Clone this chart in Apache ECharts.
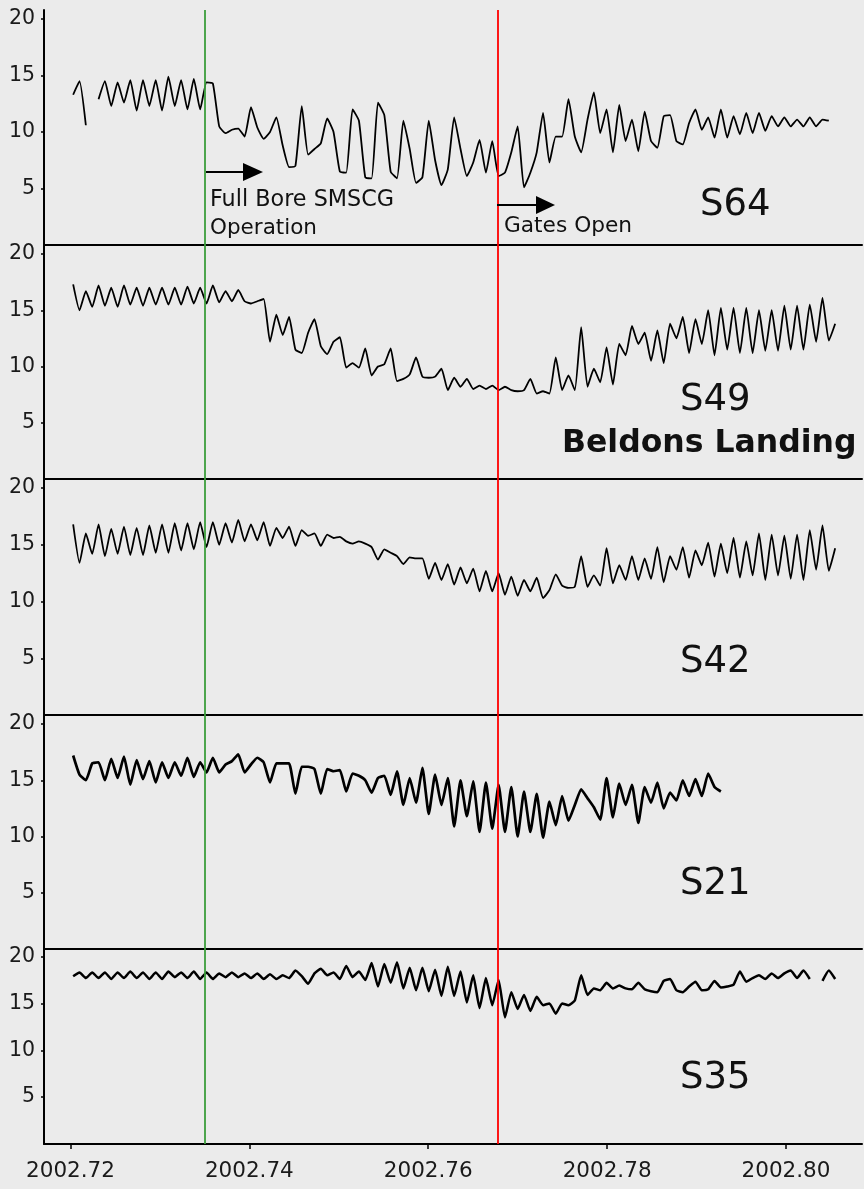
<!DOCTYPE html>
<html>
<head>
<meta charset="utf-8">
<title>Salinity stations</title>
<script src="https://cdn.jsdelivr.net/npm/echarts@6.0.0/dist/echarts.min.js"></script>
<style>
  html, body { margin: 0; padding: 0; background: #ebebeb; }
  #chart { width: 864px; height: 1189px; }
</style>
</head>
<body>
<div id="chart"></div>
<script>
// sampling: one reading roughly every half tide
const sampleStart = 2002.7203;
const sampleStep = 0.00071;

// event times (decimal year)
const fullBoreStart = 2002.735;
const gatesOpenAt = 2002.7678;

const xTicks = [2002.72, 2002.74, 2002.76, 2002.78, 2002.80];
const yTicks = [5, 10, 15, 20];
const stationNames = ["S64", "S49", "S42", "S21", "S35"];

const s64 = [13.3, 14.5, 10.6, null, 12.9, 14.5, 12.3, 14.4, 12.6, 14.6,
  11.9, 14.6, 12.3, 14.6, 11.9, 14.9, 12.3, 14.6, 12.0, 14.7,
  12.0, 14.4, 14.3, 10.5, 9.9, 10.2, 10.3, 9.6, 12.2, 10.4,
  9.4, 10.0, 11.3, 8.8, 6.9, 7.0, 12.3, 8.0, 8.5, 9.0,
  11.2, 10.0, 6.5, 6.4, 12.0, 11.0, 6.0, 5.9, 12.6, 11.5,
  6.5, 5.9, 11.0, 8.5, 5.5, 6.0, 11.0, 7.5, 5.3, 6.7,
  11.3, 8.5, 6.1, 7.3, 9.3, 6.4, 9.2, 6.1, 6.4, 8.2,
  10.5, 5.1, 6.4, 8.2, 11.7, 7.3, 9.6, 9.6, 12.9, 9.6,
  8.2, 11.1, 13.5, 9.9, 12.0, 8.2, 12.4, 9.2, 11.1, 8.3,
  11.8, 9.2, 8.6, 11.4, 11.5, 9.2, 8.9, 10.8, 12.0, 10.2,
  11.3, 9.5, 12.0, 9.5, 11.4, 9.8, 11.7, 9.9, 11.7, 10.1,
  11.4, 10.5, 11.3, 10.5, 11.1, 10.5, 11.3, 10.5, 11.1, 11.0];

const s49 = [17.3, 15.0, 16.7, 15.3, 17.2, 15.4, 17.0, 15.3, 17.2, 15.5,
  17.0, 15.4, 17.0, 15.5, 17.0, 15.5, 17.0, 15.5, 17.1, 15.6,
  17.0, 15.6, 17.2, 15.7, 16.7, 15.8, 16.8, 15.8, 15.6, 15.8,
  16.0, 12.2, 14.6, 12.8, 14.4, 11.5, 11.2, 13.0, 14.2, 11.8,
  11.1, 12.2, 12.6, 9.9, 10.3, 9.9, 11.6, 9.2, 10.0, 10.2,
  11.6, 8.7, 8.9, 9.3, 10.8, 9.1, 9.0, 9.1, 9.8, 7.9,
  9.0, 8.2, 8.9, 8.0, 8.3, 8.0, 8.3, 7.9, 8.2, 7.9,
  7.8, 7.9, 8.9, 7.6, 7.8, 7.6, 10.8, 7.9, 9.2, 7.9,
  13.5, 8.2, 9.8, 8.6, 11.7, 8.4, 12.0, 11.0, 13.6, 12.0,
  13.0, 10.5, 13.2, 10.3, 13.8, 12.5, 14.4, 11.2, 14.2, 12.0,
  15.0, 11.0, 15.2, 11.5, 15.2, 11.2, 15.2, 11.2, 15.0, 11.4,
  15.0, 11.4, 15.4, 11.5, 15.4, 11.5, 15.5, 12.2, 16.1, 12.3,
  13.8];

const s42 = [16.8, 13.4, 16.0, 14.2, 16.8, 14.0, 16.4, 14.2, 16.6, 14.1,
  16.5, 14.1, 16.7, 14.3, 16.8, 14.3, 16.9, 14.5, 16.9, 14.6,
  17.0, 14.8, 17.0, 15.0, 16.9, 15.2, 17.2, 15.3, 16.8, 15.4,
  17.0, 14.9, 16.5, 15.6, 16.6, 14.9, 16.3, 15.8, 16.0, 14.9,
  15.9, 15.6, 15.7, 15.3, 15.1, 15.3, 15.1, 14.8, 13.7, 14.6,
  14.3, 14.0, 13.3, 13.9, 13.8, 13.8, 12.0, 13.4, 11.9, 13.3,
  11.5, 13.0, 11.6, 12.9, 10.9, 12.7, 10.9, 12.5, 10.6, 12.2,
  10.5, 11.9, 10.9, 12.1, 10.3, 11.0, 12.4, 11.4, 11.2, 11.3,
  14.0, 11.3, 12.3, 11.4, 14.7, 11.6, 13.2, 11.9, 14.0, 11.9,
  13.8, 12.0, 14.8, 11.7, 14.0, 12.8, 14.8, 12.1, 14.5, 13.2,
  15.2, 12.2, 15.1, 12.5, 15.6, 12.1, 15.3, 12.3, 16.0, 11.9,
  15.9, 12.3, 15.8, 12.0, 15.9, 11.9, 16.3, 12.8, 16.7, 12.7,
  14.7];

const s21 = [17.2, 15.5, 15.0, 16.5, 16.6, 15.0, 16.9, 15.2, 17.1, 14.6,
  16.8, 15.1, 16.7, 14.8, 16.6, 15.2, 16.6, 15.4, 17.0, 15.3,
  16.6, 15.7, 17.0, 15.7, 16.4, 16.7, 17.3, 15.7, 16.4, 17.0,
  16.6, 14.8, 16.5, 16.5, 16.5, 13.8, 16.2, 16.2, 16.0, 13.8,
  16.0, 15.8, 15.9, 14.0, 15.6, 15.4, 15.0, 13.9, 15.2, 15.4,
  13.7, 15.8, 12.8, 15.2, 13.0, 16.1, 12.0, 15.5, 12.8, 15.2,
  10.9, 15.0, 11.8, 14.9, 10.4, 14.8, 10.7, 14.6, 10.4, 14.4,
  10.0, 14.0, 10.4, 13.8, 9.9, 13.1, 11.0, 13.6, 11.4, 12.8,
  14.2, 13.4, 12.6, 11.5, 15.2, 11.7, 14.7, 12.8, 14.6, 11.2,
  14.4, 13.0, 14.8, 12.5, 13.9, 13.2, 15.0, 13.6, 15.1, 13.6,
  15.6, 14.4, 14.0];

const s35 = [17.9, 18.3, 17.7, 18.3, 17.7, 18.3, 17.6, 18.3, 17.7, 18.4,
  17.7, 18.3, 17.6, 18.3, 17.6, 18.4, 17.8, 18.3, 17.7, 18.4,
  17.6, 18.3, 17.6, 18.2, 17.8, 18.3, 17.8, 18.2, 17.7, 18.2,
  17.6, 18.1, 17.6, 18.0, 17.7, 18.5, 17.9, 17.1, 18.2, 18.7,
  18.0, 18.3, 17.6, 19.0, 17.8, 18.4, 17.5, 19.3, 16.8, 19.2,
  17.2, 19.4, 16.6, 18.8, 16.4, 18.8, 16.3, 18.6, 15.8, 18.9,
  15.8, 18.4, 15.1, 18.0, 14.5, 17.7, 14.8, 17.5, 13.5, 16.2,
  14.4, 15.9, 14.2, 15.7, 14.8, 15.0, 13.9, 15.0, 14.8, 15.3,
  18.0, 15.9, 16.6, 16.4, 17.2, 16.6, 16.9, 16.6, 16.5, 17.2,
  16.5, 16.3, 16.2, 17.4, 17.6, 16.4, 16.2, 16.8, 17.3, 16.4,
  16.5, 17.4, 16.7, 16.8, 17.0, 18.4, 17.3, 17.7, 18.0, 17.6,
  18.2, 17.7, 18.2, 18.5, 17.7, 18.5, 17.6, null, 17.4, 18.5,
  17.6];

const stationData = [s64, s49, s42, s21, s35];

// layout of the stacked panels (px)
const panelTops = [10, 245, 479, 715, 949];
const panelHeights = [235, 234, 236, 234, 195];
const lineWidths = [1.8, 1.8, 1.8, 2.7, 2.5];

const FONT = '"DejaVu Sans", "Liberation Sans", sans-serif';

function toPairs(vals) {
  return vals.map((v, i) => [sampleStart + i * sampleStep, v]);
}

var chartDom = document.getElementById("chart");
var myChart = echarts.init(chartDom, null, { renderer: "canvas" });
var option;

const grids = [], xAxes = [], yAxes = [], series = [];

stationData.forEach((vals, k) => {
  const last = k === stationData.length - 1;
  grids.push({ left: 44, right: 2, top: panelTops[k], height: panelHeights[k] });
  xAxes.push({
    type: "value",
    gridIndex: k,
    min: 2002.71704,
    max: 2002.8085,
    axisLine: { show: true, lineStyle: { color: "#000", width: 2 } },
    axisTick: {
      show: last,
      customValues: xTicks,
      length: 5,
      lineStyle: { color: "#000", width: 1.5 },
    },
    axisLabel: {
      show: last,
      customValues: xTicks,
      margin: 16,
      fontSize: 21.5,
      fontFamily: FONT,
      color: "#1a1a1a",
      formatter: (v) => v.toFixed(2),
    },
    splitLine: { show: false },
  });
  yAxes.push({
    type: "value",
    gridIndex: k,
    min: 0,
    max: 20.8,
    axisLine: { show: true, lineStyle: { color: "#000", width: 2 } },
    axisTick: {
      show: true,
      customValues: yTicks,
      length: 3,
      lineStyle: { color: "#000", width: 1.5 },
    },
    axisLabel: {
      customValues: yTicks,
      margin: 9,
      fontSize: 20.5,
      fontFamily: FONT,
      color: "#1a1a1a",
    },
    splitLine: { show: false },
  });
  series.push({
    name: stationNames[k],
    type: "line",
    xAxisIndex: k,
    yAxisIndex: k,
    data: toPairs(vals),
    showSymbol: false,
    smooth: 0.15,
    connectNulls: false,
    lineStyle: { color: "#000", width: lineWidths[k] },
    markLine: {
      silent: true,
      symbol: "none",
      precision: 4,
      label: { show: false },
      animation: false,
      data: [
        { xAxis: fullBoreStart, lineStyle: { color: "#3c9e3c", width: 1.8, type: "solid" } },
        { xAxis: gatesOpenAt, lineStyle: { color: "#ff0000", width: 1.8, type: "solid" } },
      ],
    },
  });
});

function label(text, x, y, size, bold) {
  return {
    type: "text",
    x: x,
    y: y,
    z: 10,
    style: {
      text: text,
      fill: "#111",
      font: (bold ? "bold " : "") + size + "px " + FONT,
      verticalAlign: "middle",
    },
  };
}

function arrow(x1, x2, y, head) {
  return [
    { type: "line", z: 10, shape: { x1: x1, y1: y, x2: x2 - head, y2: y }, style: { stroke: "#000", lineWidth: 2 } },
    {
      type: "polygon",
      z: 10,
      shape: { points: [[x2 - head, y - 9], [x2, y], [x2 - head, y + 9]] },
      style: { fill: "#000" },
    },
  ];
}

const graphics = [
  label("Full Bore SMSCG", 210, 200, 22.3, false),
  label("Operation", 210, 228, 21.5, false),
  label("Gates Open", 504, 226, 21.7, false),
  label("S64", 700, 205, 37, false),
  label("S49", 680, 400, 37, false),
  label("Beldons Landing", 562, 444, 31.5, true),
  label("S42", 680, 662, 37, false),
  label("S21", 680, 884, 37, false),
  label("S35", 680, 1078, 37, false),
]
  .concat(arrow(206, 263, 172, 20))
  .concat(arrow(497, 555, 205, 19));

option = {
  backgroundColor: "#ebebeb",
  animation: false,
  grid: grids,
  xAxis: xAxes,
  yAxis: yAxes,
  series: series,
  graphic: graphics,
};

option && myChart.setOption(option);
</script>
</body>
</html>
